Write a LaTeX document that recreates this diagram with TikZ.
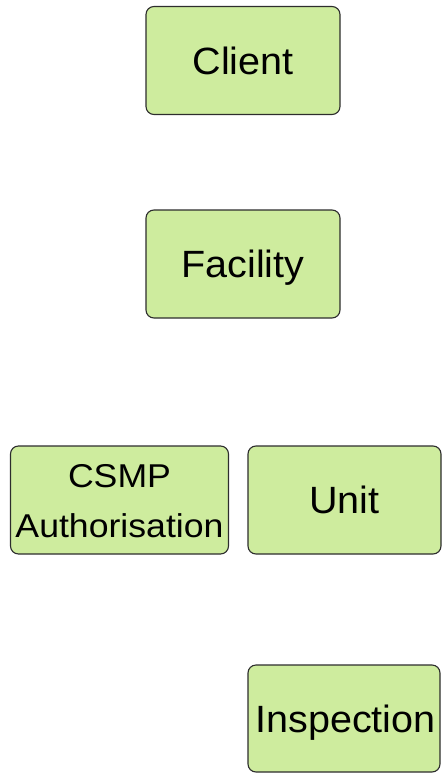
\documentclass[tikz,border=0pt]{standalone}
\usepackage{fontspec}
\setmainfont{Liberation Sans}[FakeStretch=1.04]
\newfontfamily\smallfam{Liberation Sans}[FakeStretch=1.08]
\definecolor{boxfill}{RGB}{206,236,158}
\definecolor{boxline}{RGB}{45,45,45}
\begin{document}
\begin{tikzpicture}[x=1pt,y=-1pt,
  box/.style={draw=boxline, fill=boxfill, line width=1.1pt, rounded corners=8pt, inner sep=0pt},
  txt/.style={inner sep=0pt, font=\fontsize{38}{46}\selectfont, text height=27.5pt, text depth=0pt},
  txtsmall/.style={inner sep=0pt, align=center, font=\smallfam\fontsize{33}{50}\selectfont}]
\useasboundingbox (0,0) rectangle (443,773);
\node[box, minimum width=194pt, minimum height=108pt] (client) at (243,60.5) {};
\node[txt] (clienttext) at (243,60.5) {Client};
\node[box, minimum width=194pt, minimum height=108pt] (facility) at (243,264) {};
\node[txt] (facilitytext) at (243,263.5) {Facility};
\node[box, minimum width=218pt, minimum height=108pt] (csmp) at (119.5,500) {};
\node[txtsmall] (csmptext) at (119.5,501) {CSMP\\Authorisation};
\node[box, minimum width=193pt, minimum height=108pt] (unit) at (344.5,500) {};
\node[txt] (unittext) at (344.5,500) {Unit};
\node[box, minimum width=192pt, minimum height=107pt] (inspection) at (344,718.5) {};
\node[txt] (inspectiontext) at (345.5,718.5) {Inspection};
\end{tikzpicture}
\end{document}
